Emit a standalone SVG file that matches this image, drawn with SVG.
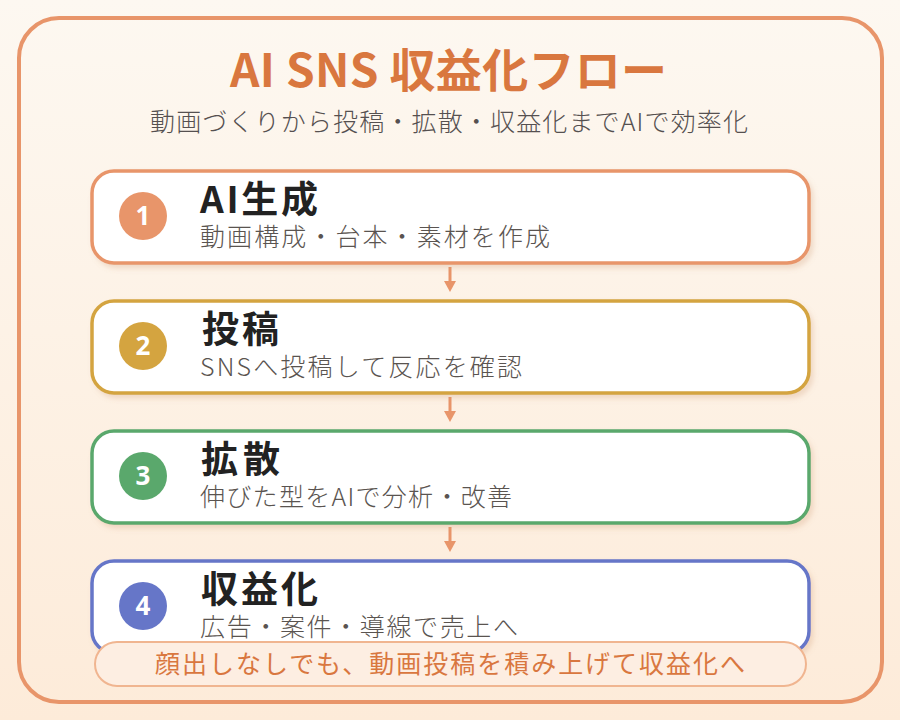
<svg xmlns="http://www.w3.org/2000/svg" width="900" height="720" viewBox="0 0 900 720">
<defs>
<linearGradient id="bg" x1="0" y1="0" x2="0" y2="1">
<stop offset="0" stop-color="#fdf8f1"/>
<stop offset="1" stop-color="#fdebd9"/>
</linearGradient>
<filter id="sh" x="-5%" y="-20%" width="110%" height="150%">
<feDropShadow dx="3" dy="4" stdDeviation="2.5" flood-color="#c8906a" flood-opacity="0.25"/>
</filter>
<style>
.t{font-family:"Noto Sans CJK JP","Noto Sans",sans-serif}
.card{fill:#ffffff;stroke-width:3.5}
.num{font-family:"Noto Sans","Noto Sans CJK JP",sans-serif;font-size:26px;font-weight:700;fill:#ffffff;text-anchor:middle}
.head{font-size:37px;font-weight:700;fill:#222222}
.sub{font-size:25px;font-weight:300;fill:#5a5450}
.conn{stroke:#e8956a;stroke-width:3;fill:none}
</style>
</defs>
<rect x="0" y="0" width="900" height="720" fill="url(#bg)"/>
<rect x="19" y="18" width="863" height="684" rx="40" fill="none" stroke="#e8956a" stroke-width="4"/>
<text class="t" x="230" y="87" font-size="46" font-weight="700" fill="#d9773f" textLength="437">AI SNS 収益化フロー</text>
<text class="t" x="150" y="131" font-size="25" font-weight="300" fill="#555050" textLength="598">動画づくりから投稿・拡散・収益化までAIで効率化</text>

<g id="connectors">
<line class="conn" x1="450" y1="267" x2="450" y2="282"/>
<path d="M444,281 L456,281 L450,292 Z" fill="#e8956a"/>
<line class="conn" x1="450" y1="397" x2="450" y2="412"/>
<path d="M444,411 L456,411 L450,422 Z" fill="#e8956a"/>
<line class="conn" x1="450" y1="527" x2="450" y2="542"/>
<path d="M444,541 L456,541 L450,552 Z" fill="#e8956a"/>
</g>

<g id="node1">
<rect class="card" x="92" y="171" width="717" height="92" rx="22" stroke="#e8956a" filter="url(#sh)"/>
<circle cx="143" cy="216" r="24" fill="#e8956a"/>
<text class="num" x="143" y="225">1</text>
<text class="t head" x="200" y="213" textLength="118">AI生成</text>
<text class="t sub" x="200" y="246" textLength="350">動画構成・台本・素材を作成</text>
</g>

<g id="node2">
<rect class="card" x="92" y="301" width="717" height="92" rx="22" stroke="#d4a440" filter="url(#sh)"/>
<circle cx="143" cy="346" r="24" fill="#d4a440"/>
<text class="num" x="143" y="355">2</text>
<text class="t head" x="202" y="343" textLength="77">投稿</text>
<text class="t sub" x="200" y="376" textLength="322">SNSへ投稿して反応を確認</text>
</g>

<g id="node3">
<rect class="card" x="92" y="431" width="717" height="92" rx="22" stroke="#5aa86c" filter="url(#sh)"/>
<circle cx="143" cy="476" r="24" fill="#5aa86c"/>
<text class="num" x="143" y="485">3</text>
<text class="t head" x="201" y="473" textLength="79">拡散</text>
<text class="t sub" x="200" y="506" textLength="312">伸びた型をAIで分析・改善</text>
</g>

<g id="node4">
<rect class="card" x="92" y="561" width="717" height="92" rx="22" stroke="#6676c8" filter="url(#sh)"/>
<circle cx="143" cy="606" r="24" fill="#6676c8"/>
<text class="num" x="143" y="615">4</text>
<text class="t head" x="201" y="603" textLength="117">収益化</text>
<text class="t sub" x="200" y="636" textLength="318">広告・案件・導線で売上へ</text>
</g>

<g id="banner">
<rect x="95" y="642" width="711" height="44" rx="22" fill="#fdeee2" stroke="#f0b590" stroke-width="2"/>
<text class="t" x="155" y="673" font-size="25" fill="#d9773f" textLength="590">顔出しなしでも、動画投稿を積み上げて収益化へ</text>
</g>
</svg>
